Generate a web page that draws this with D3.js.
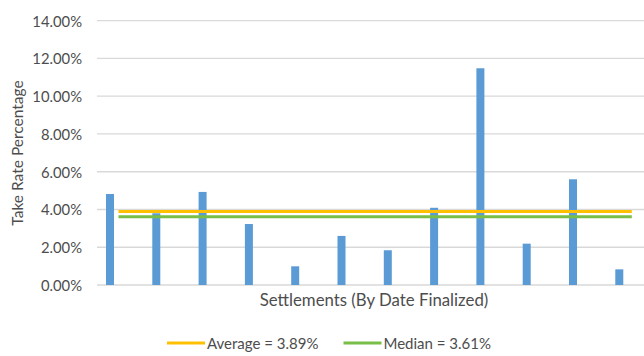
<!DOCTYPE html>
<html>
<head>
<meta charset="utf-8">
<script src="https://cdnjs.cloudflare.com/ajax/libs/d3/7.8.5/d3.min.js"></script>
<style>
  body { margin: 0; background: #fff; }
  text { font-family: Lato, "Open Sans", sans-serif; fill: #4d4d4d; }
</style>
</head>
<body>
<div id="chart"></div>
<script>
// settlements in order of date finalized
const settlements = ['S1','S2','S3','S4','S5','S6','S7','S8','S9','S10','S11','S12']
const takeRates = [4.82, 3.80, 4.93, 3.23, 0.99, 2.60, 1.84, 4.09, 11.48, 2.19, 5.60, 0.83]
const yTicks = [0, 2, 4, 6, 8, 10, 12, 14]
const averageRate = 3.89
const medianRate = 3.61

const width = 644,
      height = 356

const svg = d3.select('#chart')
    .append('svg')
    .attr('width', width)
    .attr('height', height)

const y = d3.scaleLinear()
    .domain([0, 14])
    .range([285, 20.7])

const x = d3.scalePoint()
    .domain(settlements)
    .range([110, 619.3])

// gridlines
svg.selectAll('.grid')
    .data(yTicks)
    .enter()
    .append('line')
    .attr('x1', 97)
    .attr('x2', width)
    .attr('y1', d => y(d))
    .attr('y2', d => y(d))
    .attr('stroke', '#d9d9d9')
    .attr('stroke-width', 1.3)

// y tick labels
svg.selectAll('.tick-label')
    .data(yTicks)
    .enter()
    .append('text')
    .text(d => d.toFixed(2) + '%')
    .attr('x', 82)
    .attr('y', d => y(d))
    .attr('text-anchor', 'end')
    .attr('dominant-baseline', 'central')
    .attr('font-size', 14.8)

// bars
const barWidth = 8
svg.selectAll('.bar')
    .data(takeRates)
    .enter()
    .append('rect')
    .attr('x', (d, i) => x(settlements[i]) - barWidth / 2)
    .attr('y', d => y(d))
    .attr('width', barWidth)
    .attr('height', d => y(0) - y(d))
    .attr('fill', '#5b9bd5')

// average and median lines
const refLines = [
    { value: averageRate, color: '#ffc000', label: 'Average = ' + averageRate.toFixed(2) + '%' },
    { value: medianRate, color: '#79be46', label: 'Median = ' + medianRate.toFixed(2) + '%' }
]
const lineStart = x(settlements[0]) + 8.5,
      lineEnd = x(settlements[settlements.length - 1]) + 12.5

svg.selectAll('.ref-line')
    .data(refLines)
    .enter()
    .append('line')
    .attr('x1', lineStart)
    .attr('x2', lineEnd)
    .attr('y1', d => y(d.value))
    .attr('y2', d => y(d.value))
    .attr('stroke', d => d.color)
    .attr('stroke-width', 3)

// axis titles
svg.append('text')
    .text('Take Rate Percentage')
    .attr('transform', 'translate(17, 153) rotate(-90)')
    .attr('text-anchor', 'middle')
    .attr('dominant-baseline', 'central')
    .attr('font-size', 15.5)

svg.append('text')
    .text('Settlements (By Date Finalized)')
    .attr('x', 374)
    .attr('y', 299)
    .attr('text-anchor', 'middle')
    .attr('dominant-baseline', 'central')
    .attr('font-size', 16.8)

// legend
const legend = svg.selectAll('.legend')
    .data(refLines)
    .enter()
    .append('g')
    .attr('transform', (d, i) => `translate(${i == 0 ? 167 : 343.5}, 343)`)

legend.append('line')
    .attr('x1', 0)
    .attr('x2', 38)
    .attr('stroke', d => d.color)
    .attr('stroke-width', 3)

legend.append('text')
    .text(d => d.label)
    .attr('x', 40)
    .attr('dominant-baseline', 'central')
    .attr('font-size', 15)
</script>
</body>
</html>
